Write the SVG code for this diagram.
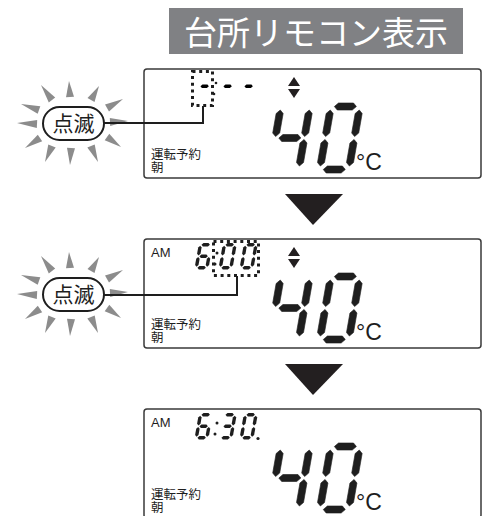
<svg xmlns="http://www.w3.org/2000/svg" xmlns:xlink="http://www.w3.org/1999/xlink" width="483" height="516" viewBox="0 0 483 516">
<style>
.panel{fill:#fff;stroke:#3a3a3a;stroke-width:1.5}
.seg{fill:#1e1e1e;stroke:#1e1e1e;stroke-width:0.6;stroke-linejoin:round}
.sseg{fill:#1e1e1e}
.jp{font-family:"Noto Sans CJK JP","Noto Sans",sans-serif;fill:#1e1e1e}
.lat{font-family:"Liberation Sans",Arial,sans-serif;fill:#1e1e1e}
.dot{fill:none;stroke:#1e1e1e;stroke-width:3;stroke-dasharray:3 3.7}
.conn{fill:none;stroke:#1e1e1e;stroke-width:2}
.ray{fill:#8c8c8c}
.bubble{fill:#fff;stroke:#1e1e1e;stroke-width:2}
.tri{fill:#231f20}
</style>
<defs>
<polygon id="ba" points="7,3.5 10.5,0 25.5,0 29,3.5 25.5,7 10.5,7"/>
<polygon id="bb" points="32.5,7 36,10.5 36,30 32.5,33.5 29,30 29,10.5"/>
<polygon id="bc" points="32.5,36.5 36,40 36,59.5 32.5,63 29,59.5 29,40"/>
<polygon id="bd" points="7,66.5 10.5,63 25.5,63 29,66.5 25.5,70 10.5,70"/>
<polygon id="be" points="3.5,36.5 7,40 7,59.5 3.5,63 0,59.5 0,40"/>
<polygon id="bf" points="3.5,7 7,10.5 7,30 3.5,33.5 0,30 0,10.5"/>
<polygon id="bg" points="7,35 10.5,31.5 25.5,31.5 29,35 25.5,38.5 10.5,38.5"/>
<g id="big4" class="seg"><use xlink:href="#bf"/><use xlink:href="#bg"/><use xlink:href="#bb"/><use xlink:href="#bc"/></g>
<g id="big0" class="seg"><use xlink:href="#ba"/><use xlink:href="#bb"/><use xlink:href="#bc"/><use xlink:href="#bd"/><use xlink:href="#be"/><use xlink:href="#bf"/></g>
<polygon id="sa" points="2.8,1.7 4.5,0 9.5,0 11.2,1.7 9.5,3.4 4.5,3.4"/>
<polygon id="sb" points="12.3,2.8 14,4.5 14,10.8 12.3,12.5 10.6,10.8 10.6,4.5"/>
<polygon id="sc" points="12.3,14 14,15.7 14,22 12.3,23.7 10.6,22 10.6,15.7"/>
<polygon id="sd" points="2.8,24.8 4.5,23.1 9.5,23.1 11.2,24.8 9.5,26.5 4.5,26.5"/>
<polygon id="se" points="1.7,14 3.4,15.7 3.4,22 1.7,23.7 0,22 0,15.7"/>
<polygon id="sf" points="1.7,2.8 3.4,4.5 3.4,10.8 1.7,12.5 0,10.8 0,4.5"/>
<polygon id="sg" points="2.8,13.25 4.5,11.55 9.5,11.55 11.2,13.25 9.5,14.95 4.5,14.95"/>
<g id="s6" class="sseg"><use xlink:href="#sa"/><use xlink:href="#sf"/><use xlink:href="#sg"/><use xlink:href="#se"/><use xlink:href="#sd"/><use xlink:href="#sc"/></g>
<g id="s0" class="sseg"><use xlink:href="#sa"/><use xlink:href="#sb"/><use xlink:href="#sc"/><use xlink:href="#sd"/><use xlink:href="#se"/><use xlink:href="#sf"/></g>
<g id="s3" class="sseg"><use xlink:href="#sa"/><use xlink:href="#sb"/><use xlink:href="#sg"/><use xlink:href="#sc"/><use xlink:href="#sd"/></g>
<g id="rays">
<polygon class="ray" points="55.2,97.6 48.8,102.4 41,85"/>
<polygon class="ray" points="74,96.75 66,97.25 69,81"/>
<polygon class="ray" points="94.5,102 87.5,98 99,86"/>
<polygon class="ray" points="40.3,106.2 37.7,113.8 21,104"/>
<polygon class="ray" points="37.2,120 36.8,128 17,123"/>
<polygon class="ray" points="37.8,134.7 42.2,141.3 25,148"/>
<polygon class="ray" points="48.3,144.4 55.7,147.6 45,162"/>
<polygon class="ray" points="67,147.8 75,148.2 70,165"/>
<polygon class="ray" points="87.3,147.6 94.7,144.4 98,162"/>
<polygon class="ray" points="104.7,140.3 109.3,133.7 121,147"/>
<polygon class="ray" points="109,111.5 105,104.5 123,99"/>
<polygon class="ray" points="110.2,126 109.8,118 128,121"/>
</g>
<g id="lower">
<text class="jp" x="151" y="159" font-size="12.5">運転予約</text>
<text class="jp" x="151" y="172" font-size="12.5">朝</text>
<use xlink:href="#big4" transform="translate(278,103) skewX(-10)"/>
<use xlink:href="#big0" transform="translate(328,103) skewX(-10)"/>
<text class="lat" x="356" y="170" font-size="23">°C</text>
</g>
<g id="updown">
<polygon class="tri" points="288,86 300,86 294,77"/>
<polygon class="tri" points="288,89 300,89 294,98"/>
</g>
</defs>

<g id="title">
<rect x="169" y="8" width="294" height="46" fill="#808184"/>
<text x="316" y="45" font-size="33" text-anchor="middle" fill="#fff" font-family="'Noto Sans CJK JP','Noto Sans',sans-serif">台所リモコン表示</text>
</g>

<g id="panel1">
<rect class="panel" x="144" y="69" width="337" height="109" rx="3"/>
<use xlink:href="#lower"/>
<use xlink:href="#updown"/>
<g transform="translate(200,73) skewX(-10)"><use xlink:href="#sg"/></g>
<g transform="translate(223,73) skewX(-10)"><use xlink:href="#sg"/></g>
<g transform="translate(244,73) skewX(-10)"><use xlink:href="#sg"/></g>
<circle cx="216" cy="83" r="1.3" fill="#1e1e1e"/>
<circle cx="214" cy="94" r="1.3" fill="#1e1e1e"/>
<rect class="dot" x="192.5" y="71.5" width="20" height="34"/>
</g>

<g id="panel2">
<rect class="panel" x="144" y="239" width="337" height="109" rx="3"/>
<use xlink:href="#lower" transform="translate(0,170)"/>
<use xlink:href="#updown" transform="translate(0,170)"/>
<text class="lat" x="151" y="257" font-size="13">AM</text>
<use xlink:href="#s6" transform="translate(199,243) skewX(-10)"/>
<circle cx="217" cy="253" r="1.5" fill="#1e1e1e"/>
<circle cx="215" cy="264" r="1.5" fill="#1e1e1e"/>
<use xlink:href="#s0" transform="translate(223,243) skewX(-10)"/>
<use xlink:href="#s0" transform="translate(244,243) skewX(-10)"/>
<rect class="dot" x="213.5" y="241.5" width="45" height="34"/>
</g>

<g id="panel3">
<rect class="panel" x="144" y="409" width="337" height="109" rx="3"/>
<use xlink:href="#lower" transform="translate(0,340)"/>
<text class="lat" x="151" y="427" font-size="13">AM</text>
<use xlink:href="#s6" transform="translate(199,413) skewX(-10)"/>
<circle cx="217" cy="423" r="1.5" fill="#1e1e1e"/>
<circle cx="215" cy="434" r="1.5" fill="#1e1e1e"/>
<use xlink:href="#s3" transform="translate(223,413) skewX(-10)"/>
<use xlink:href="#s0" transform="translate(244,413) skewX(-10)"/>
<circle cx="258" cy="438.5" r="1.6" fill="#1e1e1e"/>
</g>

<g id="bubble1">
<use xlink:href="#rays"/>
<rect class="bubble" x="43" y="107" width="61" height="33" rx="16.5"/>
<text class="jp" x="73.5" y="131" font-size="21" text-anchor="middle">点滅</text>
</g>

<g id="bubble2" transform="translate(0,171)">
<use xlink:href="#rays"/>
<rect class="bubble" x="43" y="107" width="61" height="33" rx="16.5"/>
<text class="jp" x="73.5" y="131" font-size="21" text-anchor="middle">点滅</text>
</g>

<g id="arrows">
<polygon class="tri" points="285,194 343,194 313,225"/>
<polygon class="tri" points="285,364 343,364 313,395"/>
</g>

<g id="connectors">
<polyline class="conn" points="104,123 203,123 203,106"/>
<polyline class="conn" points="104,295 237,295 237,276"/>
</g>
</svg>
